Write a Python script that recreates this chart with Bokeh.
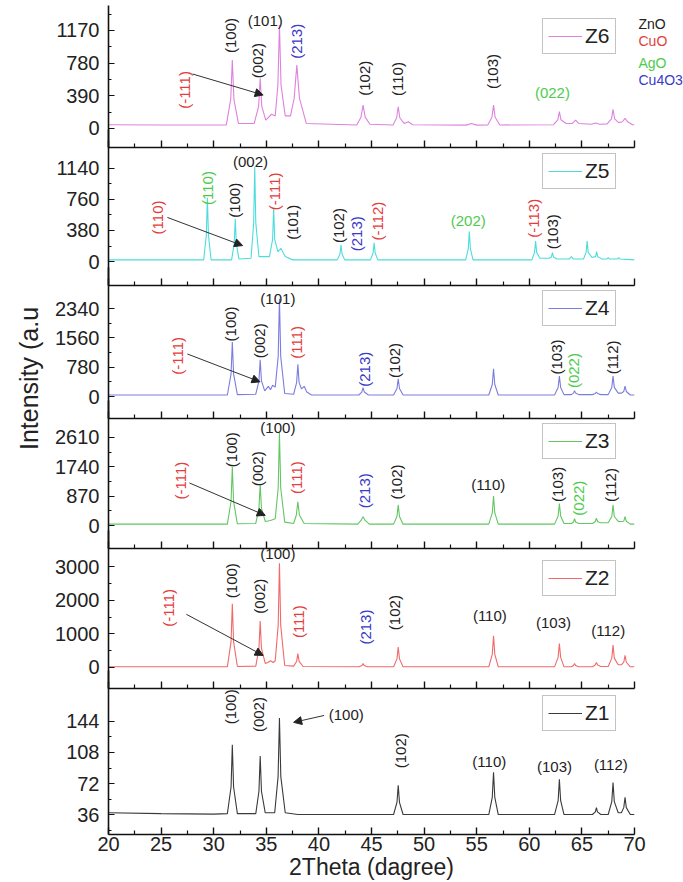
import math
from bokeh.plotting import figure
from bokeh.models import (ColumnDataSource, LabelSet, Label, Arrow, NormalHead,
                          Range1d, FixedTicker, Legend, LegendItem)
from bokeh.layouts import column, row
from bokeh.embed import file_html
from bokeh.resources import INLINE
from bokeh.core.properties import value

FONT = "Liberation Sans"

# ---------------- data ----------------
X_TICKS = [20, 25, 30, 35, 40, 45, 50, 55, 60, 65, 70]
X_MINOR = [22.5, 27.5, 32.5, 37.5, 42.5, 47.5, 52.5, 57.5, 62.5, 67.5]

Z6_x = [20, 25, 31.2, 31.62, 31.77, 31.92, 32.35, 33.85, 34.27, 34.42, 34.57, 34.95, 35.5, 35.85,
        36.1, 36.25, 36.4, 36.8, 37.3, 37.65, 37.9, 38.15, 38.8, 43.6, 44.0, 44.2, 44.4, 44.85,
        47.05, 47.39, 47.54, 47.69, 48.1, 48.5, 48.9, 54.0, 54.5, 55.0, 56.05, 56.45, 56.6, 56.75,
        57.2, 62.3, 62.71, 62.86, 63.01, 63.5, 64.1, 64.4, 64.7, 65.9, 66.3, 66.7, 67.4, 67.81,
        67.96, 68.11, 68.5, 68.85, 69.1, 69.35, 69.8, 70]
Z6_y = [45, 42, 42, 350, 816, 350, 60, 60, 264, 600, 264, 100, 170, 150,
        518, 1234, 518, 150, 150, 362, 756, 362, 60, 42, 135, 278, 135, 50,
        42, 128, 259, 128, 60, 80, 45, 40, 60, 40, 42, 135, 278, 135,
        42, 45, 104, 200, 104, 60, 60, 100, 60, 50, 65, 50, 55, 115,
        227, 115, 70, 80, 120, 80, 45, 45]

Z5_x = [20, 29.05, 29.3, 29.4, 29.5, 29.75, 31.7, 31.95, 32.05, 32.15, 32.4, 33.55, 33.8, 33.9,
        34.0, 34.3, 35.3, 35.6, 35.7, 35.8, 36.1, 36.4, 36.8, 37.5, 41.75, 42.0, 42.1, 42.2, 42.45,
        44.9, 45.15, 45.25, 45.35, 45.6, 53.95, 54.2, 54.3, 54.4, 54.65, 60.25, 60.5, 60.6, 60.7,
        61.0, 61.9, 62.1, 62.2, 62.3, 62.6, 63.8, 64.0, 64.2, 65.15, 65.4, 65.5, 65.6, 65.95, 66.3,
        66.4, 66.5, 66.9, 67.4, 67.5, 67.6, 68.4, 68.5, 68.6, 70]
Z5_y = [20, 20, 324, 780, 324, 20, 20, 220, 520, 220, 30, 40, 476, 1160,
        476, 60, 60, 272, 650, 272, 120, 160, 60, 20, 20, 92, 200, 92, 20,
        20, 104, 230, 104, 20, 20, 159, 367, 159, 20, 20, 112, 250, 112,
        40, 40, 56, 110, 56, 30, 30, 60, 30, 30, 112, 250, 112, 50, 60,
        120, 60, 30, 30, 50, 30, 30, 50, 30, 20]

Z4_x = [20, 31.3, 31.65, 31.77, 31.89, 32.25, 34.0, 34.3, 34.42, 34.54, 34.85, 35.2, 35.4, 35.6,
        35.85, 36.13, 36.25, 36.37, 36.75, 37.6, 37.88, 38.0, 38.12, 38.35, 38.6, 38.85, 39.3,
        43.8, 44.08, 44.2, 44.32, 44.7, 47.1, 47.42, 47.54, 47.66, 48.0, 56.15, 56.48, 56.6, 56.72,
        57.05, 62.4, 62.74, 62.86, 62.98, 63.3, 64.0, 64.2, 64.3, 64.4, 64.7, 66.0, 66.28, 66.38,
        66.48, 66.8, 67.5, 67.84, 67.96, 68.08, 68.45, 68.75, 68.98, 69.1, 69.22, 69.6, 70]
Z4_y = [40, 40, 604, 1450, 604, 50, 60, 414, 975, 414, 150, 270, 180, 300,
        250, 1064, 2600, 1064, 80, 60, 368, 860, 368, 200, 270, 120, 40,
        40, 118, 235, 118, 40, 40, 212, 470, 212, 40, 40, 320, 740, 320,
        40, 40, 242, 545, 242, 50, 50, 90, 155, 90, 50, 50, 80, 120,
        80, 50, 50, 242, 545, 242, 90, 90, 134, 275, 134, 40, 40]

Z3_x = [20, 31.3, 31.65, 31.77, 31.89, 32.25, 34.0, 34.3, 34.42, 34.54, 34.9, 35.4, 35.85, 36.13,
        36.25, 36.37, 36.75, 37.6, 37.85, 38.0, 38.15, 38.6, 43.7, 44.0, 44.2, 44.4, 44.8, 47.1,
        47.42, 47.54, 47.66, 48.0, 56.15, 56.48, 56.6, 56.72, 57.05, 62.4, 62.74, 62.86, 62.98,
        63.3, 64.0, 64.2, 64.3, 64.4, 64.7, 66.0, 66.26, 66.38, 66.5, 66.8, 67.5, 67.84, 67.96,
        68.08, 68.45, 68.75, 68.98, 69.1, 69.22, 69.6, 70]
Z3_y = [40, 40, 720, 1740, 720, 50, 60, 512, 1220, 512, 120, 150, 200, 1120,
        2740, 1120, 100, 60, 304, 700, 304, 60, 40, 150, 260, 150, 40, 40,
        268, 610, 268, 40, 40, 372, 870, 372, 40, 40, 284, 650, 284,
        60, 60, 104, 200, 104, 60, 60, 112, 220, 112, 80, 80, 268, 610,
        268, 120, 120, 128, 260, 128, 40, 40]

Z2_x = [20, 31.3, 31.65, 31.77, 31.89, 32.25, 34.0, 34.3, 34.42, 34.54, 34.9, 35.15, 35.4, 35.65,
        35.85, 36.13, 36.25, 36.37, 36.75, 37.6, 37.88, 38.0, 38.12, 38.5, 43.8, 44.1, 44.2, 44.3,
        44.6, 47.1, 47.42, 47.54, 47.66, 48.0, 56.15, 56.48, 56.6, 56.72, 57.05, 62.4, 62.74, 62.86,
        62.98, 63.3, 64.0, 64.2, 64.3, 64.4, 64.7, 66.0, 66.26, 66.38, 66.5, 66.8, 67.5, 67.84,
        67.96, 68.08, 68.45, 68.75, 68.98, 69.1, 69.22, 69.6, 70]
Z2_y = [20, 20, 770, 1890, 770, 30, 40, 565, 1380, 565, 120, 150, 200, 150,
        200, 1250, 3100, 1250, 60, 40, 180, 410, 180, 30, 20, 60, 120, 60,
        20, 20, 256, 610, 256, 20, 20, 390, 940, 390, 20, 20, 300, 715,
        300, 20, 20, 60, 120, 60, 20, 20, 72, 150, 72, 30, 30, 278,
        665, 278, 80, 80, 156, 360, 156, 20, 20]

Z1_x = [20, 25, 30, 31.3, 31.65, 31.77, 31.89, 32.25, 34.0, 34.3, 34.42, 34.54, 34.9, 35.8, 36.12,
        36.25, 36.38, 36.8, 38, 47.1, 47.42, 47.54, 47.66, 48.0, 56.15, 56.48, 56.6, 56.72, 57.05,
        62.4, 62.74, 62.86, 62.98, 63.3, 66.0, 66.28, 66.38, 66.48, 66.8, 67.5, 67.84, 67.96, 68.08,
        68.45, 68.75, 68.98, 69.1, 69.22, 69.6, 70]
Z1_y = [38, 37, 36.5, 37, 68, 117, 68, 37, 37, 63, 104, 63, 38, 38, 80,
        148, 80, 38, 36, 36, 50, 70, 50, 36, 36, 56, 85, 56, 36,
        36, 52, 77, 52, 36, 36, 39, 44, 39, 36, 36, 51, 73, 51,
        38, 38, 44, 56, 44, 36, 36]

# y ticks, minor ticks, visible y range of each panel
Z6_ticks, Z6_minor, Z6_range = [0, 390, 780, 1170], [195, 585, 975, 1365], (-227, 1468)
Z5_ticks, Z5_minor, Z5_range = [0, 380, 760, 1140], [190, 570, 950], (-294, 1397)
Z4_ticks, Z4_minor, Z4_range = [0, 780, 1560, 2340], [390, 1170, 1950], (-585, 2952)
Z3_ticks, Z3_minor, Z3_range = [0, 870, 1740, 2610], [435, 1305, 2175], (-682, 3173)
Z2_ticks, Z2_minor, Z2_range = [0, 1000, 2000, 3000], [500, 1500, 2500], (-624, 3535)
Z1_ticks, Z1_minor, Z1_range = [36, 72, 108, 144], [18, 54, 90, 126], (12.8, 182.3)

# peak annotations: text, x, y, rotated(1/0), phase
Z6_ann = [("(-111)", 27.2, 460, 1, "CuO"), ("(100)", 31.6, 1110, 1, "ZnO"), ("(002)", 34.2, 810, 1, "ZnO"),
          ("(101)", 34.9, 1285, 0, "ZnO"), ("(213)", 37.9, 1040, 1, "Cu4O3"), ("(102)", 44.3, 600, 1, "ZnO"),
          ("(110)", 47.5, 590, 1, "ZnO"), ("(103)", 56.5, 680, 1, "ZnO"), ("(022)", 62.2, 430, 0, "AgO")]
Z5_ann = [("(110)", 24.7, 540, 1, "CuO"), ("(110)", 29.4, 900, 1, "AgO"), ("(100)", 32.0, 750, 1, "ZnO"),
          ("(002)", 33.5, 1220, 0, "ZnO"), ("(-111)", 35.8, 860, 1, "CuO"), ("(101)", 37.5, 480, 1, "ZnO"),
          ("(102)", 41.9, 440, 1, "ZnO"), ("(213)", 43.6, 340, 1, "Cu4O3"), ("(-112)", 45.6, 495, 1, "CuO"),
          ("(202)", 54.2, 500, 0, "AgO"), ("(-113)", 60.4, 530, 1, "CuO"), ("(103)", 62.2, 365, 1, "ZnO")]
Z4_ann = [("(-111)", 26.6, 1080, 1, "CuO"), ("(100)", 31.6, 1930, 1, "ZnO"), ("(002)", 34.35, 1480, 1, "ZnO"),
          ("(101)", 36.1, 2600, 0, "ZnO"), ("(111)", 37.9, 1440, 1, "CuO"), ("(213)", 44.35, 725, 1, "Cu4O3"),
          ("(102)", 47.2, 960, 1, "ZnO"), ("(103)", 62.6, 1050, 1, "ZnO"), ("(022)", 64.2, 690, 1, "AgO"),
          ("(112)", 67.9, 1040, 1, "ZnO")]
Z3_ann = [("(-111)", 26.8, 1330, 1, "CuO"), ("(100)", 31.7, 2250, 1, "ZnO"), ("(002)", 34.2, 1680, 1, "ZnO"),
          ("(100)", 36.1, 2900, 0, "ZnO"), ("(111)", 37.9, 1420, 1, "CuO"), ("(213)", 44.3, 1030, 1, "Cu4O3"),
          ("(102)", 47.4, 1290, 1, "ZnO"), ("(110)", 56.1, 1220, 0, "ZnO"), ("(103)", 62.7, 1220, 1, "ZnO"),
          ("(022)", 64.7, 810, 1, "AgO"), ("(112)", 67.75, 1200, 1, "ZnO")]
Z2_ann = [("(-111)", 25.7, 1770, 1, "CuO"), ("(100)", 31.7, 2580, 1, "ZnO"), ("(002)", 34.36, 2120, 1, "ZnO"),
          ("(100)", 36.1, 3400, 0, "ZnO"), ("(111)", 38.1, 1360, 1, "CuO"), ("(213)", 44.4, 1200, 1, "Cu4O3"),
          ("(102)", 47.2, 1630, 1, "ZnO"), ("(110)", 56.25, 1530, 0, "ZnO"), ("(103)", 62.3, 1330, 0, "ZnO"),
          ("(112)", 67.5, 1100, 0, "ZnO")]
Z1_ann = [("(100)", 31.6, 161, 1, "ZnO"), ("(002)", 34.3, 152, 1, "ZnO"), ("(100)", 42.6, 152, 0, "ZnO"),
          ("(102)", 47.8, 110, 1, "ZnO"), ("(110)", 56.2, 97, 0, "ZnO"), ("(103)", 62.4, 92, 0, "ZnO"),
          ("(112)", 67.75, 94, 0, "ZnO")]

# arrows: x_start, y_start, x_end, y_end
Z6_arrow = (28.0, 650, 34.7, 400)
Z5_arrow = (25.6, 540, 32.75, 195)
Z4_arrow = (27.5, 1130, 34.4, 390)
Z3_arrow = (27.7, 1260, 34.9, 300)
Z2_arrow = (27.4, 1580, 34.7, 360)
Z1_arrow = (40.5, 151, 37.6, 143)

PHASES = ["ZnO", "CuO", "AgO", "Cu4O3"]
PHASE_COLORS = {"ZnO": "#222222", "CuO": "#e33d3d", "AgO": "#4ccc4c", "Cu4O3": "#3a3ac8"}

panels = [
    ("Z6", "#de82de", Z6_x, Z6_y, Z6_range, Z6_ticks, Z6_minor, 142, 15, Z6_ann, Z6_arrow),
    ("Z5", "#4ddcdc", Z5_x, Z5_y, Z5_range, Z5_ticks, Z5_minor, 138, 8, Z5_ann, Z5_arrow),
    ("Z4", "#7c7cde", Z4_x, Z4_y, Z4_range, Z4_ticks, Z4_minor, 133, 7, Z4_ann, Z4_arrow),
    ("Z3", "#62c662", Z3_x, Z3_y, Z3_range, Z3_ticks, Z3_minor, 130, 7, Z3_ann, Z3_arrow),
    ("Z2", "#f06a6a", Z2_x, Z2_y, Z2_range, Z2_ticks, Z2_minor, 140, 14, Z2_ann, Z2_arrow),
    ("Z1", "#3a3a3a", Z1_x, Z1_y, Z1_range, Z1_ticks, Z1_minor, 146, 9, Z1_ann, Z1_arrow),
]

W, H = 683, 882
LEFT, FRAME_W = 108, 526
RIGHT = W - LEFT - FRAME_W
OT, OB, EXT = 45, 45, 18
LAST_BOTTOM = 48
LEG_W, LEG_H = 72, 34

figs = []
for i, (name, color, xs, ys, yr, yt, ym, fh, leg_top, ann, arr) in enumerate(panels):
    first = i == 0
    last = i == len(panels) - 1
    if first:
        top, ext = 5, 0
    else:
        top, ext = OT - EXT, EXT
    upp = (yr[1] - yr[0]) / fh
    y_end = yr[1] + ext * upp
    bottom = LAST_BOTTOM if last else OB
    kw = {}
    if not first:
        kw["margin"] = (-(OB + OT), 0, 0, 0)
    p = figure(width=W, height=top + fh + ext + bottom, x_range=Range1d(20, 70),
               y_range=Range1d(yr[0], y_end),
               output_backend="svg", toolbar_location=None,
               min_border_left=LEFT, min_border_right=RIGHT, min_border_top=top, min_border_bottom=bottom,
               outline_line_color=None, background_fill_color=None, border_fill_color=None, **kw)
    p.grid.visible = False

    r = p.line(xs, ys, line_color=color, line_width=1.1)

    xa = p.xaxis[0]
    xa.ticker = FixedTicker(ticks=X_TICKS, minor_ticks=X_MINOR)
    xa.axis_line_width = 1.6
    xa.axis_line_color = "#111111"
    xa.major_tick_in, xa.major_tick_out = 7, 0
    xa.minor_tick_in, xa.minor_tick_out = 4, 0
    xa.major_tick_line_width = 1.4
    xa.minor_tick_line_width = 1.2
    xa.major_tick_line_color = "#111111"
    xa.minor_tick_line_color = "#111111"
    if last:
        xa.major_label_text_font = FONT
        xa.major_label_text_font_size = "20px"
        xa.major_label_text_color = "#222222"
        xa.major_label_standoff = 2
    else:
        xa.major_label_overrides = {t: "" for t in X_TICKS}

    ya = p.yaxis[0]
    ya.ticker = FixedTicker(ticks=yt, minor_ticks=ym)
    ya.axis_line_width = 1.6
    ya.axis_line_color = "#111111"
    ya.major_tick_in, ya.major_tick_out = 6, 0
    ya.minor_tick_in, ya.minor_tick_out = 3, 0
    ya.major_tick_line_color = "#111111"
    ya.minor_tick_line_color = "#111111"
    ya.major_label_text_font = FONT
    ya.major_label_text_font_size = "20px"
    ya.major_label_text_color = "#222222"
    ya.major_label_standoff = 9

    leg = Legend(items=[LegendItem(label=name, renderers=[r])],
                 location=(FRAME_W - 20 - LEG_W, fh - leg_top - LEG_H),
                 label_text_font=FONT, label_text_font_size="21px", label_text_color="#222222",
                 glyph_width=34, glyph_height=24, label_height=24, label_standoff=3,
                 padding=5, margin=0, border_line_color="#888888", border_line_width=1,
                 background_fill_alpha=0.0)
    p.add_layout(leg)

    src = ColumnDataSource(dict(
        x=[a[1] for a in ann], y=[a[2] for a in ann], text=[a[0] for a in ann],
        angle=[math.pi / 2 if a[3] else 0.0 for a in ann],
        color=[PHASE_COLORS[a[4]] for a in ann]))
    p.add_layout(LabelSet(x="x", y="y", text="text", angle="angle", text_color="color", source=src,
                          text_align="center", text_baseline="middle",
                          text_font=value(FONT), text_font_size=value("15px")))

    p.add_layout(Arrow(end=NormalHead(size=8, fill_color="#222222", line_color="#222222"),
                       x_start=arr[0], y_start=arr[1], x_end=arr[2], y_end=arr[3],
                       line_color="#333333", line_width=1))
    figs.append(p)

# transparent overlay in page pixels for the shared titles and the phase key
ov = figure(width=W, height=H, x_range=Range1d(0, W), y_range=Range1d(H, 0),
            output_backend="svg", toolbar_location=None, min_border=0,
            outline_line_color=None, background_fill_color=None, border_fill_color=None,
            margin=(0, 0, 0, -W))
ov.axis.visible = False
ov.grid.visible = False
ov.add_layout(Label(x=28, y=378, text="Intensity (a.u", angle=math.pi / 2, text_font=FONT,
                    text_font_size="25px", text_color="#222222", text_align="center",
                    text_baseline="middle"))
ov.add_layout(Label(x=LEFT + FRAME_W / 2, y=866, text="2Theta (dagree)", text_font=FONT,
                    text_font_size="23px", text_color="#222222", text_align="center",
                    text_baseline="middle"))
for ph, yy in zip(PHASES, [23, 40, 62, 79]):
    ov.add_layout(Label(x=LEFT + FRAME_W + 4, y=yy, text=ph, text_color=PHASE_COLORS[ph], text_font=FONT,
                        text_font_size="14px", text_baseline="middle", text_align="left"))

layout = row(column(*figs, spacing=0), ov, spacing=0)
open("out.html", "w").write(file_html(layout, INLINE))
